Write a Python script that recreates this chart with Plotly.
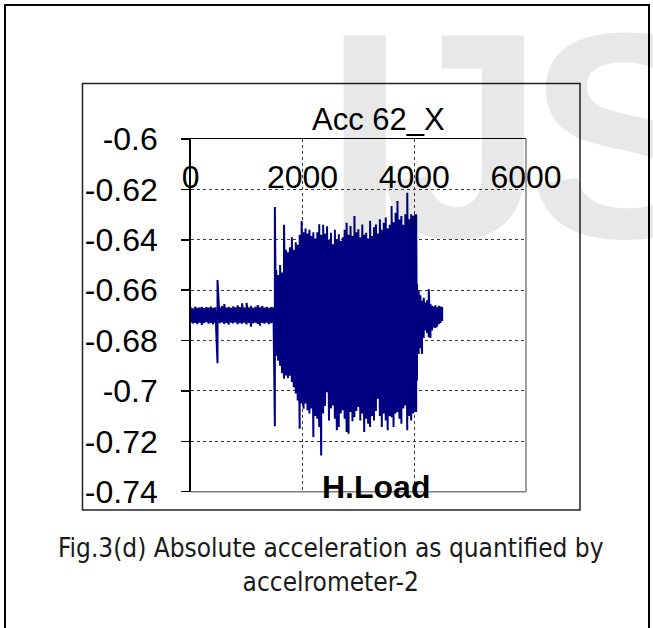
import plotly.graph_objects as go

# ---------------- data ----------------
# Each sample bin: time position, upper and lower extent of the dense signal
base_x = [0, 40, 80, 120, 160, 200, 240, 280, 320, 360, 400, 440, 480, 520, 560, 600,
          640, 680, 720, 760, 800, 840, 880, 920, 960, 1000, 1040, 1080, 1120, 1160,
          1200, 1240, 1280, 1320, 1360, 1400, 1440, 1480, 1506]
base_hi = [-0.6668, -0.6672, -0.6665, -0.6670, -0.6668, -0.6666, -0.6671, -0.6667,
           -0.6669, -0.6665, -0.6670, -0.6668, -0.6560, -0.6668, -0.6663, -0.6655,
           -0.6669, -0.6666, -0.6670, -0.6664, -0.6668, -0.6660, -0.6667, -0.6652,
           -0.6669, -0.6650, -0.6668, -0.6662, -0.6670, -0.6665, -0.6659, -0.6668,
           -0.6663, -0.6669, -0.6666, -0.6670, -0.6667, -0.6668, -0.6270]
base_lo = [-0.6728, -0.6732, -0.6730, -0.6735, -0.6729, -0.6738, -0.6731, -0.6727,
           -0.6733, -0.6730, -0.6736, -0.6729, -0.6890, -0.6731, -0.6728, -0.6734,
           -0.6730, -0.6737, -0.6729, -0.6732, -0.6728, -0.6735, -0.6731, -0.6733,
           -0.6729, -0.6736, -0.6730, -0.6745, -0.6732, -0.6729, -0.6734, -0.6741,
           -0.6730, -0.6733, -0.6729, -0.6735, -0.6731, -0.6729, -0.7140]

load_x = [1530, 1565, 1600, 1635, 1670, 1705, 1740, 1775, 1810, 1845, 1880, 1915,
          1950, 1985, 2020, 2055, 2090, 2125, 2160, 2195, 2230, 2265, 2300, 2335,
          2370, 2405, 2440, 2475, 2510, 2545, 2580, 2615, 2650, 2685, 2720, 2755,
          2790, 2825, 2860, 2895, 2930, 2965, 3000, 3035, 3070, 3105, 3140, 3175,
          3210, 3245, 3280, 3315, 3350, 3385, 3420, 3455, 3490, 3525, 3560, 3595,
          3630, 3665, 3700, 3735, 3770, 3805, 3840, 3875, 3910, 3945, 3980, 4015, 4035]
load_hi = [-0.6520, -0.6540, -0.6500, -0.6530, -0.6340, -0.6440, -0.6450, -0.6430,
           -0.6390, -0.6440, -0.6410, -0.6420, -0.6380, -0.6325, -0.6370, -0.6355,
           -0.6375, -0.6360, -0.6385, -0.6370, -0.6395, -0.6370, -0.6338, -0.6380,
           -0.6340, -0.6375, -0.6346, -0.6400, -0.6372, -0.6418, -0.6360, -0.6400,
           -0.6378, -0.6405, -0.6390, -0.6360, -0.6332, -0.6380, -0.6345, -0.6385,
           -0.6306, -0.6370, -0.6358, -0.6390, -0.6339, -0.6380, -0.6372, -0.6395,
           -0.6325, -0.6385, -0.6350, -0.6339, -0.6375, -0.6319, -0.6360, -0.6332,
           -0.6312, -0.6355, -0.6340, -0.6266, -0.6330, -0.6293, -0.6246, -0.6320,
           -0.6306, -0.6340, -0.6299, -0.6213, -0.6319, -0.6299, -0.6305, -0.6299, -0.6299]
load_lo = [-0.6860, -0.6880, -0.6900, -0.6930, -0.6952, -0.6939, -0.6950, -0.6940,
           -0.6965, -0.6985, -0.7010, -0.7038, -0.7150, -0.7050, -0.7071, -0.7050,
           -0.7077, -0.7090, -0.7070, -0.7183, -0.7100, -0.7110, -0.7143, -0.7256,
           -0.7090, -0.7060, -0.7005, -0.7117, -0.7070, -0.7058, -0.7110, -0.7156,
           -0.7143, -0.7090, -0.7077, -0.7110, -0.7163, -0.7170, -0.7084, -0.7120,
           -0.7104, -0.7080, -0.7064, -0.7117, -0.7090, -0.7163, -0.7110, -0.7130,
           -0.7143, -0.7100, -0.7117, -0.7080, -0.7031, -0.7100, -0.7143, -0.7090,
           -0.7117, -0.7156, -0.7100, -0.7104, -0.7143, -0.7090, -0.7084, -0.7110,
           -0.7130, -0.7070, -0.7058, -0.7156, -0.7100, -0.7117, -0.7090, -0.7084, -0.7084]

tail_x = [4050, 4080, 4110, 4140, 4170, 4200, 4230, 4260, 4290, 4320, 4350, 4380,
          4410, 4440, 4470, 4500]
tail_hi = [-0.6576, -0.6600, -0.6620, -0.6642, -0.6630, -0.6650, -0.6640, -0.6596,
           -0.6655, -0.6662, -0.6665, -0.6660, -0.6668, -0.6662, -0.6665, -0.6667]
tail_lo = [-0.6960, -0.6853, -0.6830, -0.6853, -0.6790, -0.6760, -0.6770, -0.6787,
           -0.6790, -0.6760, -0.6748, -0.6750, -0.6745, -0.6735, -0.6730, -0.6722]

x_ticks = [0, 2000, 4000, 6000]
y_ticks = [-0.74, -0.72, -0.70, -0.68, -0.66, -0.64, -0.62, -0.60]
y_tick_text = ["-0.74", "-0.72", "-0.7", "-0.68", "-0.66", "-0.64", "-0.62", "-0.6"]

chart_title = "Acc 62_X"
load_label = "H.Load"
caption = "Fig.3(d) Absolute acceleration as quantified by<br>accelrometer-2"
watermark_letters = ["I", "J", "S"]

# ---------------- build the trace: min/max stroke per bin ----------------
all_x = base_x + load_x + tail_x
all_hi = base_hi + load_hi + tail_hi
all_lo = base_lo + load_lo + tail_lo
sx, sy = [], []
for xv, h, l in zip(all_x, all_hi, all_lo):
    sx += [xv, xv]
    sy += [l, h]

W, H = 653, 628
# plot area in pixels
PL, PR, PT, PB = 190.7, 526.0, 139.0, 491.7
dom_x = [PL / W, PR / W]
dom_y = [1 - PB / H, 1 - PT / H]

fig = go.Figure()
fig.add_trace(go.Scatter(x=sx, y=sy, mode="lines",
                         line=dict(color="#000080", width=2.0),
                         hoverinfo="skip", showlegend=False))

TICKFONT = dict(family="Liberation Sans, Arial, sans-serif", size=32, color="black")

fig.update_layout(
    width=W, height=H, autosize=False,
    margin=dict(l=0, r=0, t=0, b=0, pad=0, autoexpand=False),
    paper_bgcolor="white", plot_bgcolor="rgba(0,0,0,0)",
    showlegend=False,
    xaxis=dict(domain=dom_x, range=[0, 6000], side="top", automargin=False,
               tickvals=x_ticks, ticktext=[str(v) for v in x_ticks],
               tickfont=TICKFONT, ticks="", ticklabelposition="inside",
               ticklabeloverflow="allow", ticklabelstandoff=30,
               showline=True, linecolor="black", linewidth=1.5,
               showgrid=True, gridcolor="#3a3a3a", griddash="dot", gridwidth=1,
               zeroline=False, fixedrange=True),
    yaxis=dict(domain=dom_y, range=[-0.74, -0.60], automargin=False,
               tickvals=y_ticks, ticktext=y_tick_text, tickfont=TICKFONT,
               ticks="outside", ticklen=8, tickwidth=1.5, tickcolor="black",
               ticklabelstandoff=17,
               showline=True, linecolor="black", linewidth=1.5,
               showgrid=True, gridcolor="#3a3a3a", griddash="dot", gridwidth=1,
               zeroline=False, fixedrange=True),
)

shapes = []
# outer page frame
shapes.append(dict(type="rect", xref="paper", yref="paper",
                   x0=5 / W, x1=649 / W, y0=-0.05, y1=1 - 5 / H,
                   line=dict(color="black", width=2), layer="below"))
# chart frame
shapes.append(dict(type="rect", xref="paper", yref="paper",
                   x0=82.5 / W, x1=580 / W, y0=1 - 510 / H, y1=1 - 83.5 / H,
                   line=dict(color="#222222", width=1.5), layer="below"))
# gray right / bottom border of the plot area
shapes.append(dict(type="line", xref="paper", yref="paper",
                   x0=dom_x[1], x1=dom_x[1], y0=dom_y[0], y1=dom_y[1],
                   line=dict(color="#808080", width=1.5)))
shapes.append(dict(type="line", xref="paper", yref="paper",
                   x0=dom_x[0], x1=dom_x[1], y0=dom_y[0], y1=dom_y[0],
                   line=dict(color="#808080", width=1.5)))
fig.update_layout(shapes=shapes)

annotations = []
# watermark letters (light gray)
for letter, left_px in zip(watermark_letters, [322, 379, 526]):
    annotations.append(dict(
        text="<b>" + letter + "</b>", xref="paper", yref="paper",
        x=left_px / W, y=1 + 30 / H, xanchor="left", yanchor="top", showarrow=False,
        font=dict(family="Liberation Sans, Arial, sans-serif", size=293,
                  color="rgba(0,0,0,0.09)")))
annotations += [
    dict(text=chart_title, xref="paper", yref="paper", x=378 / W, y=1 - 119 / H,
         xanchor="center", yanchor="middle", showarrow=False,
         font=dict(family="Liberation Sans, Arial, sans-serif", size=31, color="black")),
    dict(text="<b>" + load_label + "</b>", xref="paper", yref="paper",
         x=376 / W, y=1 - 487 / H, xanchor="center", yanchor="middle", showarrow=False,
         font=dict(family="Liberation Sans, Arial, sans-serif", size=32, color="black")),
    dict(text=caption, xref="paper", yref="paper", x=331 / W, y=1 - 565 / H,
         xanchor="center", yanchor="middle", showarrow=False, align="center",
         font=dict(family="DejaVu Sans Condensed, Lato, sans-serif",
                   size=26, color="#1a1a1a")),
]
fig.update_layout(annotations=annotations)

fig.write_html("out.html", config={"displayModeBar": False, "staticPlot": True},
               post_script="document.body.style.margin='0px';document.body.style.overflow='hidden';")
